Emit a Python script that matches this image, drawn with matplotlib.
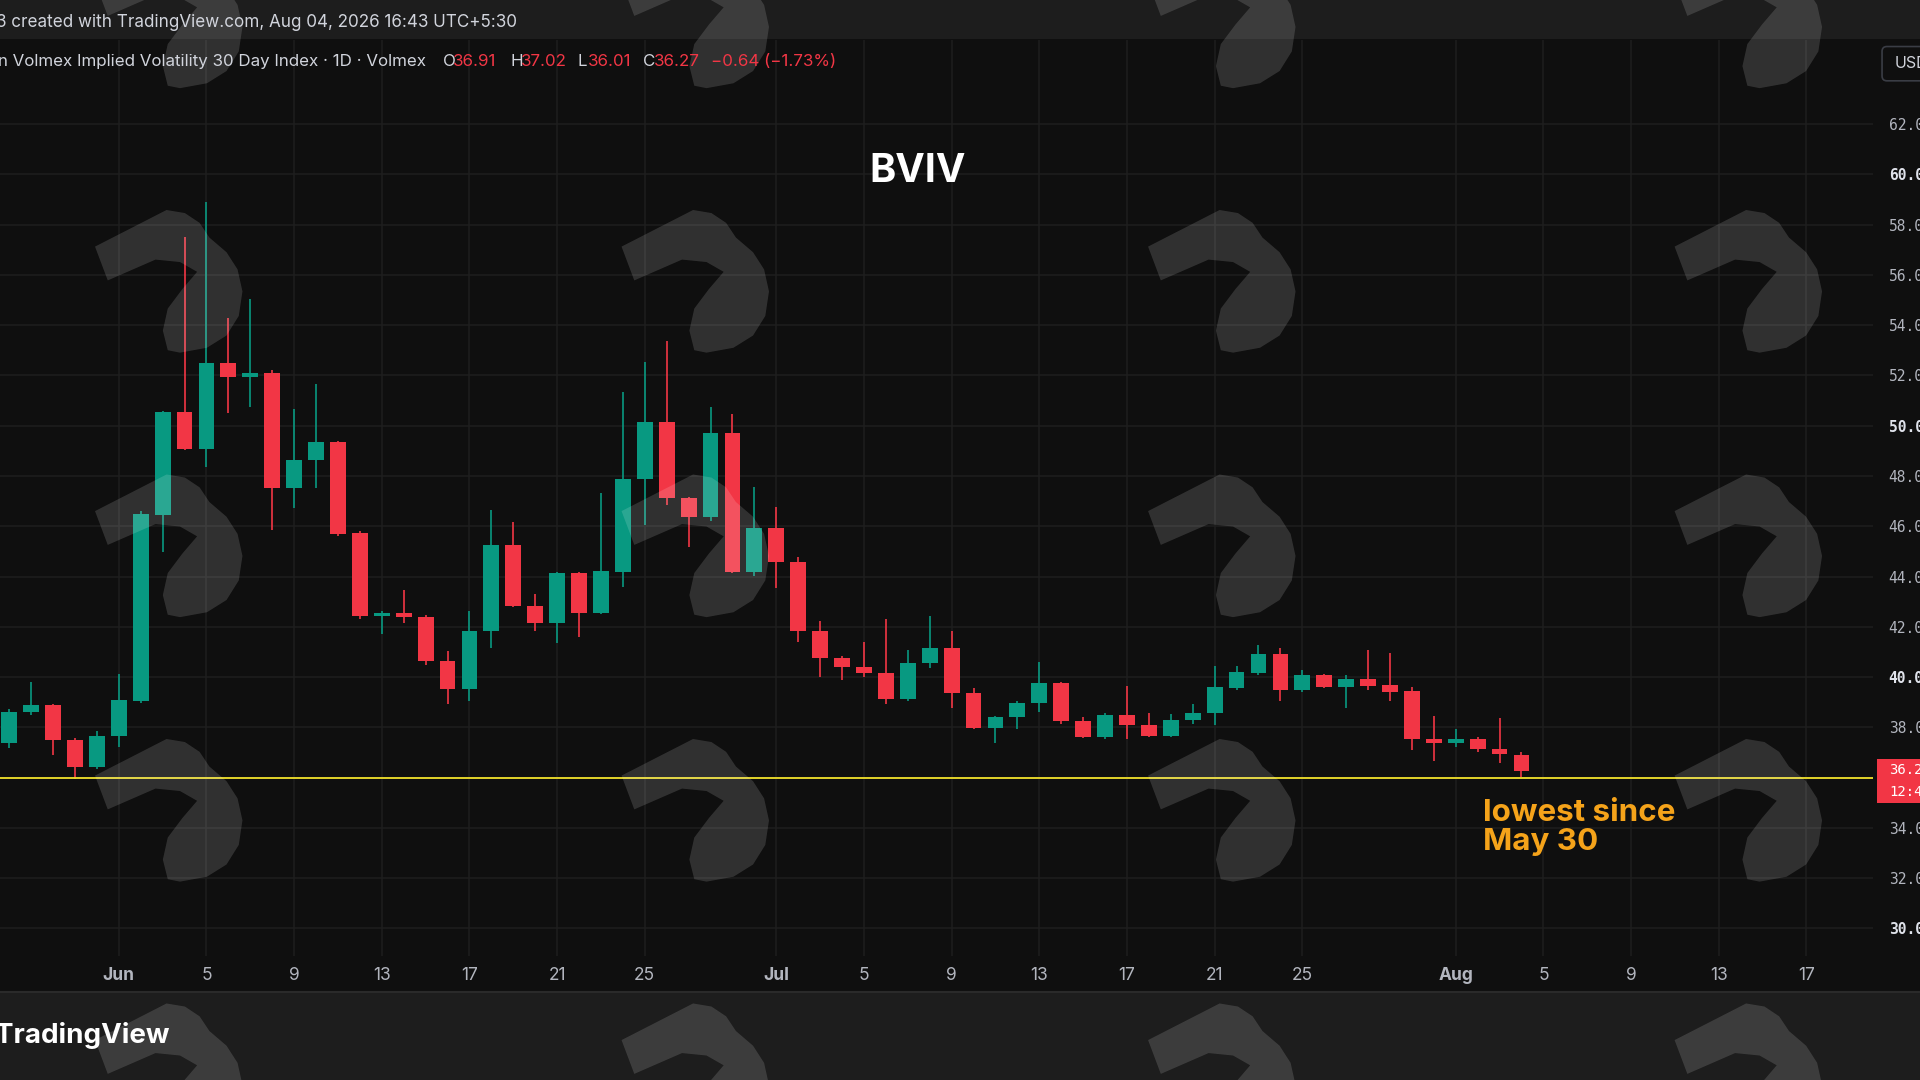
import matplotlib
matplotlib.use("Agg")
import matplotlib.pyplot as plt
import matplotlib.dates as mdates
from matplotlib.patches import Polygon, Rectangle, FancyBboxPatch
import pandas as pd

# ---------------- data ----------------
dates = pd.date_range("2026-05-27", "2026-08-04", freq="D")
opens = [37.37, 38.60, 38.87, 37.50, 36.44, 37.64, 39.05, 46.45, 50.55, 49.08,
         52.48, 51.95, 52.11, 47.51, 48.64, 49.37, 45.72, 42.44, 42.54, 42.41,
         40.64, 39.51, 41.84, 45.26, 42.84, 42.14, 44.13, 42.54, 44.19, 47.87,
         50.16, 47.14, 46.38, 49.70, 44.19, 45.92, 44.56, 41.84, 40.75, 40.41,
         40.15, 39.12, 40.57, 41.17, 39.38, 37.99, 38.40, 38.96, 39.75, 38.24,
         37.63, 38.49, 38.08, 37.66, 38.28, 38.56, 39.55, 40.18, 40.92, 39.49,
         40.09, 39.60, 39.91, 39.69, 39.45, 37.54, 37.39, 37.54, 37.14, 36.91]
highs = [38.72, 39.82, 38.93, 37.56, 37.86, 40.13, 46.60, 50.60, 57.50, 58.91,
         54.27, 55.04, 52.20, 50.65, 51.65, 49.40, 45.80, 42.61, 43.47, 42.45,
         41.04, 42.63, 46.65, 46.15, 43.30, 44.20, 44.20, 47.31, 51.35, 52.52,
         53.39, 47.18, 50.76, 50.47, 47.55, 46.76, 44.79, 42.25, 40.84, 41.41,
         42.30, 41.08, 42.43, 41.84, 39.55, 38.45, 39.05, 40.61, 39.80, 38.43,
         38.59, 39.64, 38.56, 38.52, 38.93, 40.44, 40.44, 41.28, 41.14, 40.28,
         40.13, 40.09, 41.08, 40.94, 39.62, 38.46, 37.93, 37.61, 38.36, 37.02]
lows = [37.17, 38.50, 36.91, 35.94, 36.34, 37.21, 38.98, 44.96, 49.05, 48.37,
        50.50, 50.73, 45.85, 46.72, 47.51, 45.62, 42.30, 41.72, 42.17, 40.49,
        38.93, 39.06, 41.15, 42.80, 41.84, 41.35, 41.59, 42.50, 43.58, 46.05,
        46.85, 45.19, 46.19, 44.15, 44.02, 43.53, 41.41, 39.99, 39.88, 40.02,
        38.93, 39.05, 40.35, 38.76, 37.93, 37.36, 37.94, 38.63, 38.13, 37.58,
        37.53, 37.53, 37.60, 37.60, 38.13, 38.10, 39.50, 40.10, 39.03, 39.42,
        39.58, 38.76, 39.49, 39.03, 37.08, 36.68, 37.23, 37.03, 36.60, 36.01]
closes = [38.63, 38.87, 37.48, 36.44, 37.66, 39.09, 46.49, 50.55, 49.09, 52.48,
          51.95, 52.11, 47.51, 48.64, 49.37, 45.69, 42.44, 42.54, 42.38, 40.62,
          39.51, 41.84, 45.26, 42.84, 42.14, 44.13, 42.54, 44.22, 47.88, 50.16,
          47.11, 46.38, 49.70, 44.19, 45.92, 44.56, 41.84, 40.74, 40.41, 40.15,
          39.12, 40.57, 41.17, 39.38, 37.99, 38.40, 38.96, 39.75, 38.24, 37.63,
          38.49, 38.08, 37.66, 38.30, 38.59, 39.60, 40.21, 40.92, 39.49, 40.08,
          39.60, 39.91, 39.66, 39.42, 37.53, 37.39, 37.54, 37.13, 36.93, 36.27]

tick_dates = ["2026-06-01", "2026-06-05", "2026-06-09", "2026-06-13", "2026-06-17",
              "2026-06-21", "2026-06-25", "2026-07-01", "2026-07-05", "2026-07-09",
              "2026-07-13", "2026-07-17", "2026-07-21", "2026-07-25", "2026-08-01",
              "2026-08-05", "2026-08-09", "2026-08-13", "2026-08-17"]
tick_labels = ["Jun", "5", "9", "13", "17", "21", "25", "Jul", "5", "9", "13",
               "17", "21", "25", "Aug", "5", "9", "13", "17"]
price_ticks = [30, 32, 34, 36, 38, 40, 42, 44, 46, 48, 50, 52, 54, 56, 58, 60, 62]
bold_ticks = [30, 40, 50, 60]
hidden_ticks = [36]  # covered by the last-price label
support_level = 36.0
last_price = 36.27
title = "BVIV"
note = "lowest since\nMay 30"
header = "3 created with TradingView.com, Aug 04, 2026 16:43 UTC+5:30"
legend_name = "n Volmex Implied Volatility 30 Day Index \u00b7 1D \u00b7 Volmex"
ohlc_letters = ["O", "H", "L", "C"]
ohlc_values = ["36.91", "37.02", "36.01", "36.27"]
change_text = "\u22120.64 (\u22121.73%)"

# ---------------- style ----------------
BG = "#0f0f0f"
BAR = "#1d1d1d"
GRID = "#1e1e1e"
UP = "#089981"
DOWN = "#f23645"
TXT = "#d1d4dc"
AXT = "#b2b5be"
ORANGE = "#f5a31a"
SANS = ["Inter", "DejaVu Sans"]
MONO = ["DejaVu Sans Mono"]

W, H = 1568.0, 882.0  # design units (screen of reference)


def fr(x0, y0, x1, y1):
    return [x0 / W, 1 - y1 / H, (x1 - x0) / W, (y1 - y0) / H]


fig = plt.figure(figsize=(19.2, 10.8), dpi=100, facecolor=BG)

bg = fig.add_axes([0, 0, 1, 1], zorder=-2)
bg.set_xlim(0, W)
bg.set_ylim(H, 0)
bg.axis("off")
bg.add_patch(Rectangle((0, 0), W, 32, color=BAR, lw=0))
bg.add_patch(Rectangle((0, 810), W, 72, color=BAR, lw=0))
bg.plot([0, W], [810, 810], color="#2a2a2a", lw=1.5)

ax = fig.add_axes(fr(0, 33, 1530, 781), zorder=0)
ax.set_facecolor("none")
xnum = mdates.date2num(dates)
ax.set_xlim(xnum[0] - 0.42, xnum[0] + 85.06)
ax.set_ylim(28.89, 65.33)

cols = [UP if c >= o else DOWN for o, c in zip(opens, closes)]
bottoms = [min(o, c) for o, c in zip(opens, closes)]
heights = [max(abs(c - o), 0.07) for o, c in zip(opens, closes)]
ax.vlines(xnum, lows, highs, colors=cols, lw=1.2, zorder=3)
ax.bar(xnum, heights, width=0.72, bottom=bottoms, color=cols, linewidth=0, zorder=4)

ax.axhline(support_level, color="#f2e22b", lw=1.3, zorder=5)

ax.set_xticks(mdates.date2num(pd.to_datetime(tick_dates)))
ax.set_xticklabels(tick_labels)
ax.set_yticks(price_ticks)
ax.set_yticklabels(["" if v in hidden_ticks else f"{v:.2f}" for v in price_ticks])
ax.yaxis.tick_right()
ax.grid(True, color=GRID, lw=1.1)
ax.set_axisbelow(True)
for s in ax.spines.values():
    s.set_visible(False)
ax.tick_params(axis="x", length=0, pad=8, colors=AXT, labelsize=12.5)
ax.tick_params(axis="y", length=0, pad=11, colors=AXT, labelsize=10.5)
for lab in ax.get_xticklabels():
    lab.set_fontfamily(SANS)
    if lab.get_text() in ("Jun", "Jul", "Aug"):
        lab.set_fontweight("bold")
for lab, v in zip(ax.get_yticklabels(), price_ticks):
    lab.set_fontfamily(MONO)
    if v in bold_ticks:
        lab.set_fontweight("bold")
        lab.set_color("#e0e3eb")

# ---------------- overlay (figure-level decorations) ----------------
ov = fig.add_axes([0, 0, 1, 1], zorder=5)
ov.set_xlim(0, W)
ov.set_ylim(H, 0)
ov.axis("off")
ov.patch.set_alpha(0)

logo = [(0.6, 31.4), (59, 1.5), (74, 4), (86, 12), (94, 24), (108, 36), (117, 50),
        (121, 68), (118, 88), (108, 104), (92, 114), (70, 118), (60, 116), (56, 100),
        (60, 82), (72, 66), (84, 52), (70, 44), (50, 42), (11, 59)]
for ox in (77, 507, 937, 1367):
    for oy in (-46, 170, 386, 602, 818):
        ov.add_patch(Polygon([(ox + px, oy + py) for px, py in logo], closed=True,
                             fc="white", alpha=0.14, lw=0, zorder=1))

ov.text(-3, 18, header, color=TXT, fontsize=12.3, family=SANS, va="center", ha="left", zorder=6)

ov.text(-2, 50, legend_name, color=TXT, fontsize=12.2, family=SANS, va="center", ha="left", zorder=6)
letter_x = [362, 417, 472, 525]
value_x = [370, 425, 480, 534]
for lx, vx, l, v in zip(letter_x, value_x, ohlc_letters, ohlc_values):
    ov.text(lx, 50, l, color=TXT, fontsize=12.2, family=SANS, va="center", ha="left", zorder=6)
    ov.text(vx, 50, v, color=DOWN, fontsize=12.2, family=SANS, va="center", ha="left", zorder=6)
ov.text(581, 50, change_text, color=DOWN, fontsize=12.2, family=SANS, va="center", ha="left", zorder=6)

ov.text(749, 140, title, color="white", fontsize=28.5, fontweight="bold", family=SANS,
        ha="center", va="center", zorder=6)
ov.text(1211, 676, note, color=ORANGE, fontsize=22.6, fontweight="bold", family=SANS,
        ha="left", va="center", linespacing=1.05, zorder=6)

ov.text(-4, 846, "TradingView", color="white", fontsize=20, fontweight="bold", family=SANS,
        ha="left", va="center", zorder=6)

# last price label on the axis
ov.add_patch(Rectangle((1533, 620), 40, 36, color=DOWN, lw=0, zorder=6))
ov.text(1543, 629, f"{last_price:.2f}", color="white", fontsize=10, family=MONO,
        ha="left", va="center", zorder=7)
ov.text(1543, 647, "12:46", color="white", fontsize=10, family=MONO,
        ha="left", va="center", zorder=7)

# currency button
ov.add_patch(FancyBboxPatch((1537, 38), 40, 28, boxstyle="round,pad=0,rounding_size=4",
                            fc=BG, ec="#3a3d45", lw=1.2, zorder=6))
ov.text(1547, 52, "USD", color=TXT, fontsize=11.5, family=SANS, ha="left", va="center", zorder=7)

fig.savefig("out.png", dpi=100, facecolor=BG)
